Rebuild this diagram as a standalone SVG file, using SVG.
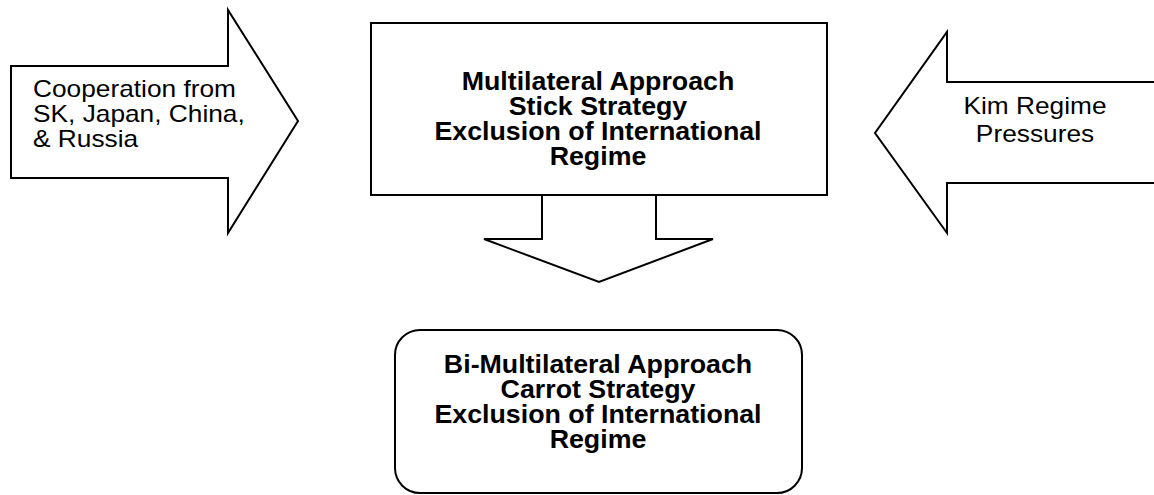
<svg xmlns="http://www.w3.org/2000/svg" width="1154" height="495" viewBox="0 0 1154 495">
<style>
.shape{fill:#fff;stroke:#000;stroke-width:2;stroke-linejoin:miter}
.reg{font-family:"Liberation Sans",Arial,sans-serif;font-size:24px;fill:#000}
.bold{font-family:"Liberation Sans",Arial,sans-serif;font-size:26px;font-weight:bold;fill:#000;text-anchor:middle}
.mid{text-anchor:middle}
</style>
<rect width="1154" height="495" fill="#fff"/>
<g id="connectors">
<path class="shape" d="M542,195 V239 H484 L599,282 L713,239 H656 V195"/>
</g>
<g id="left-arrow">
<path class="shape" d="M11,66 H228 V10 L298,121 L228,233 V178 H11 Z"/>
<g transform="translate(33,0) scale(1.095,1)">
<text class="reg" x="0" y="97">Cooperation from</text>
<text class="reg" x="0" y="122">SK, Japan, China,</text>
<text class="reg" x="0" y="147">&amp; Russia</text>
</g>
</g>
<g id="center-box">
<rect class="shape" x="371" y="23" width="456" height="172"/>
<g transform="translate(598,0) scale(1.03,1)">
<text class="bold" x="0" y="90">Multilateral Approach</text>
<text class="bold" x="0" y="115">Stick Strategy</text>
<text class="bold" x="0" y="140">Exclusion of International</text>
<text class="bold" x="0" y="165">Regime</text>
</g>
</g>
<g id="right-arrow">
<path class="shape" d="M1156,82 H947 V32 L875,133 L947,233 V183 H1156"/>
<g transform="translate(1035,0) scale(1.095,1)">
<text class="reg mid" x="0" y="114">Kim Regime</text>
<text class="reg mid" x="0" y="142">Pressures</text>
</g>
</g>
<g id="bottom-box">
<rect class="shape" x="395" y="330" width="407" height="163" rx="25" ry="25"/>
<g transform="translate(598,0) scale(1.03,1)">
<text class="bold" x="0" y="373">Bi-Multilateral Approach</text>
<text class="bold" x="0" y="398">Carrot Strategy</text>
<text class="bold" x="0" y="423">Exclusion of International</text>
<text class="bold" x="0" y="448">Regime</text>
</g>
</g>
</svg>
